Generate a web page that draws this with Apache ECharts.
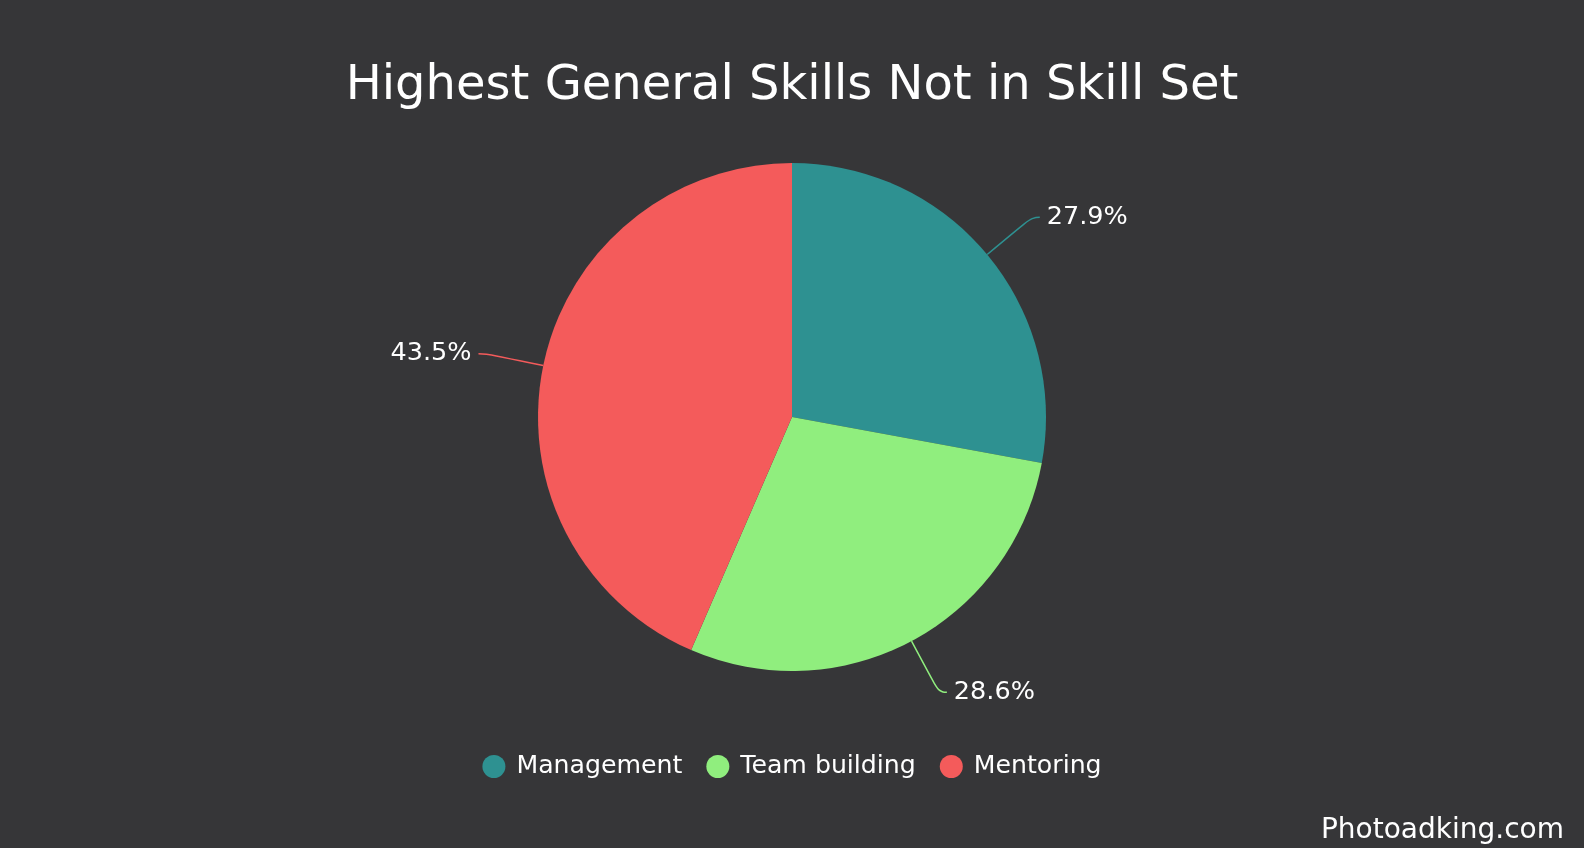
<!DOCTYPE html>
<html>
<head>
<meta charset="utf-8">
<style>
  html, body { margin: 0; padding: 0; background: #363638; }
  #chart { width: 1584px; height: 848px; }
</style>
<script src="https://cdn.jsdelivr.net/npm/echarts@6/dist/echarts.min.js"></script>
</head>
<body>
<div id="chart"></div>
<script>
const categories = ['Management', 'Team building', 'Mentoring']
const values = [27.9, 28.6, 43.5]
const colors = ['#2e9191', '#90ee7e', '#f45b5b']

const chart = echarts.init(document.getElementById('chart'))

const seriesData = categories.map(function (name, i) {
  return { name: name, value: values[i] }
})

const option = {
  backgroundColor: '#363638',
  color: colors,
  textStyle: {
    fontFamily: 'DejaVu Sans'
  },
  title: {
    text: 'Highest General Skills Not in Skill Set',
    left: 'center',
    top: 58,
    textStyle: {
      color: '#ffffff',
      fontSize: 48,
      fontWeight: 'normal',
      fontFamily: 'DejaVu Sans'
    }
  },
  legend: {
    bottom: 64,
    left: 'center',
    icon: 'circle',
    itemWidth: 23,
    itemHeight: 23,
    itemGap: 24,
    textStyle: {
      color: '#ffffff',
      fontSize: 25.2,
      fontFamily: 'DejaVu Sans',
      padding: [0, 0, 0, 6]
    }
  },
  graphic: [{
    type: 'text',
    right: 20,
    bottom: 3,
    style: {
      text: 'Photoadking.com',
      fill: '#ffffff',
      font: '28px "DejaVu Sans"'
    }
  }],
  series: [{
    type: 'pie',
    radius: 254,
    center: [792, 417],
    startAngle: 90,
    clockwise: true,
    data: seriesData,
    label: {
      color: '#ffffff',
      fontSize: 25.5,
      fontFamily: 'DejaVu Sans',
      distanceToLabelLine: 7,
      formatter: function (p) {
        return p.value.toFixed(1) + '%'
      }
    },
    labelLine: {
      length: 58,
      length2: 8,
      smooth: 0.5,
      lineStyle: { width: 1.5 }
    },
    itemStyle: {
      borderWidth: 0
    },
    emphasis: { disabled: true }
  }]
}

chart.setOption(option)
</script>
</body>
</html>
